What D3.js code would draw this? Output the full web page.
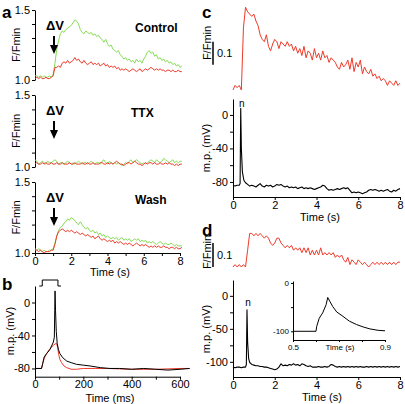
<!DOCTYPE html>
<html><head><meta charset="utf-8">
<script src="https://cdn.jsdelivr.net/npm/d3@7"></script>
<style>
body{margin:0;background:#fff}
svg{display:block;font-family:"Liberation Sans",Arial,sans-serif}
</style></head><body>
<svg id="chart" width="405" height="404"></svg>
<script>
// ---------- DATA ----------
// panel a: F/Fmin sampled every 0.1 s from 0 to 8.1 s
const ctrlGreen = [1.03,1.03,1.02,1.03,1.02,1.03,1.02,1.02,1.03,1.02,
  1.04,1.12,1.22,1.28,1.33,1.35,1.34,1.36,1.37,1.38,
  1.39,1.41,1.43,1.42,1.40,1.36,1.34,1.33,1.35,1.34,
  1.33,1.34,1.32,1.33,1.31,1.32,1.30,1.29,1.27,1.29,
  1.26,1.24,1.25,1.22,1.21,1.20,1.21,1.18,1.17,1.15,
  1.16,1.14,1.15,1.13,1.14,1.12,1.15,1.13,1.14,1.12,
  1.15,1.17,1.20,1.21,1.19,1.20,1.17,1.18,1.15,1.16,
  1.14,1.15,1.13,1.14,1.12,1.13,1.11,1.12,1.10,1.11,
  1.09,1.10];
const ctrlRed = [1.01,1.02,1.01,1.02,1.01,1.01,1.02,1.01,1.01,1.02,
  1.03,1.09,1.09,1.10,1.09,1.12,1.13,1.12,1.14,1.12,
  1.13,1.14,1.16,1.14,1.15,1.13,1.12,1.14,1.12,1.11,
  1.12,1.13,1.11,1.12,1.11,1.12,1.10,1.11,1.12,1.10,
  1.11,1.09,1.10,1.09,1.10,1.08,1.09,1.07,1.08,1.07,
  1.08,1.07,1.06,1.07,1.08,1.07,1.06,1.07,1.08,1.06,
  1.07,1.08,1.07,1.08,1.09,1.08,1.07,1.08,1.07,1.08,
  1.07,1.07,1.06,1.07,1.07,1.06,1.07,1.06,1.06,1.07,
  1.06,1.06];
const ttxGreen = [1.05,1.04,1.02,1.03,1.04,1.03,1.02,1.04,1.03,1.03,
  1.04,1.05,1.04,1.02,1.03,1.03,1.02,1.03,1.04,1.03,
  1.02,1.03,1.02,1.03,1.04,1.03,1.02,1.03,1.03,1.02,
  1.03,1.04,1.03,1.02,1.03,1.03,1.02,1.04,1.05,1.03,
  1.02,1.04,1.03,1.02,1.03,1.02,1.03,1.02,1.01,1.02,
  1.03,1.02,1.04,1.05,1.03,1.04,1.05,1.04,1.03,1.02,
  1.03,1.02,1.03,1.04,1.05,1.04,1.03,1.05,1.04,1.03,
  1.04,1.06,1.05,1.04,1.03,1.04,1.05,1.03,1.04,1.03,
  1.04,1.04];
const ttxRed = [1.02,1.03,1.02,1.02,1.03,1.02,1.03,1.02,1.02,1.03,
  1.02,1.02,1.03,1.02,1.02,1.03,1.02,1.02,1.02,1.03,
  1.02,1.02,1.03,1.02,1.02,1.02,1.03,1.02,1.02,1.03,
  1.02,1.02,1.03,1.02,1.02,1.02,1.03,1.03,1.02,1.02,
  1.03,1.02,1.03,1.02,1.03,1.04,1.03,1.02,1.02,1.01,
  1.02,1.03,1.03,1.02,1.03,1.04,1.03,1.02,1.02,1.01,
  1.02,1.03,1.02,1.03,1.03,1.02,1.03,1.02,1.02,1.03,
  1.02,1.02,1.03,1.02,1.03,1.02,1.02,1.01,1.02,1.01,
  1.02,1.02];
const washGreen = [1.03,1.02,1.03,1.02,1.01,1.02,1.01,1.01,1.02,1.02,
  1.03,1.07,1.12,1.16,1.18,1.19,1.21,1.22,1.24,1.23,
  1.25,1.24,1.23,1.21,1.20,1.22,1.20,1.18,1.17,1.18,
  1.16,1.15,1.16,1.14,1.15,1.13,1.14,1.12,1.13,1.11,
  1.12,1.11,1.10,1.11,1.10,1.11,1.09,1.10,1.11,1.09,
  1.10,1.09,1.10,1.08,1.09,1.10,1.09,1.10,1.08,1.09,
  1.08,1.09,1.07,1.08,1.07,1.08,1.07,1.06,1.07,1.08,
  1.07,1.06,1.07,1.06,1.06,1.07,1.06,1.05,1.06,1.05,
  1.05,1.05];
const washRed = [1.02,1.02,1.01,1.02,1.01,1.00,1.01,1.01,1.01,1.02,
  1.02,1.06,1.12,1.15,1.16,1.17,1.16,1.15,1.16,1.15,
  1.16,1.15,1.14,1.15,1.14,1.13,1.14,1.13,1.12,1.13,
  1.12,1.11,1.12,1.10,1.11,1.12,1.10,1.09,1.10,1.09,
  1.08,1.09,1.08,1.09,1.07,1.08,1.07,1.08,1.07,1.06,
  1.07,1.06,1.07,1.06,1.05,1.06,1.07,1.06,1.05,1.06,
  1.05,1.06,1.05,1.04,1.05,1.04,1.05,1.04,1.05,1.04,
  1.04,1.05,1.04,1.04,1.03,1.04,1.04,1.03,1.04,1.03,
  1.03,1.04];
const aNames = ["Control", "TTX", "Wash"];
const aYTicks = [1.0, 1.1, 1.2, 1.3, 1.4, 1.5];
const aYLabels = [1.0, 1.5];
const sTicks = [0, 1, 2, 3, 4, 5, 6, 7, 8];
const sLabels = [0, 2, 4, 6, 8];

// panel b: membrane potential (mV) vs time (ms)
const bBlackT = [0,27,32,38,48,62,76,80,83,85,88,92,97,103,115,131,150,172,200,228,270,310,350,400,450,500,550,600,640];
const bBlackV = [-80,-80,-74,-66,-62,-57,-48,-42,14,-10,-35,-50,-57,-62,-67,-71,-73,-75,-76,-77,-79,-80,-80,-81,-80,-81,-82,-81,-80];
const bRedT = [0,27,32,38,48,62,76,84,90,94,98,103,110,120,131,150,172,200,250,300,400,500,600,640];
const bRedV = [-80,-80,-74,-68,-62,-56,-52,-50,-50,-55,-63,-69,-73,-77,-79,-81,-81,-80,-80,-80,-81,-81,-80,-80];
const bPulse = [30, 95];
const bXTicks = [0,100,200,300,400,500,600];
const bXLabels = [0,200,400,600];
const bYTicks = [-80,-60,-40,-20,0];
const bYLabels = [-80,-40,0];

// panel c: F/Fmin every 0.1 s (0..8 s) and membrane potential
const cRed = [1.00,1.02,1.01,1.02,1.00,1.27,1.36,1.34,1.33,1.32,
  1.33,1.30,1.28,1.24,1.22,1.21,1.24,1.19,1.17,1.20,
  1.22,1.21,1.18,1.21,1.20,1.19,1.21,1.19,1.20,1.17,
  1.19,1.16,1.18,1.15,1.19,1.14,1.17,1.16,1.13,1.18,
  1.14,1.16,1.13,1.17,1.14,1.15,1.12,1.14,1.13,1.12,
  1.10,1.09,1.12,1.10,1.11,1.13,1.09,1.14,1.08,1.12,
  1.10,1.13,1.07,1.10,1.08,1.07,1.09,1.06,1.07,1.05,
  1.06,1.04,1.05,1.04,1.02,1.04,1.03,1.02,1.04,1.02,
  1.03];
const cMpT = [0,0.1,0.2,0.3,0.34,0.37,0.40,0.45,0.52,0.6,0.7].concat(d3.range(8, 81).map(i => i / 10));
const cMpV = [-84,-85,-84,-84,-82,8,-40,-68,-78,-81,-83,
  -85,-84,
  -85,-86,-84,-82,-85,-86,-84,-85,-84,-86,
  -85,-83,-84,-83,-85,-86,-85,-87,-86,-87,
  -86,-88,-87,-86,-88,-87,-88,-87,-88,-89,
  -88,-87,-86,-84,-85,-88,-90,-89,-90,-89,
  -88,-89,-88,-87,-88,-87,-90,-93,-92,-93,
  -92,-93,-94,-93,-92,-90,-89,-90,-89,-90,
  -91,-90,-91,-90,-89,-91,-92,-90,-91,-89,
  -88];
const cYTicks = [-80,-60,-40,-20,0];
const cYLabels = [-80,-40,0];
const cSpikeT = 0.37;

// panel d
const dRed = [1.00,1.01,1.00,1.01,1.00,1.01,1.00,1.07,1.14,1.14,
  1.13,1.14,1.13,1.14,1.13,1.12,1.13,1.12,1.10,1.09,
  1.10,1.12,1.12,1.10,1.09,1.08,1.09,1.08,1.09,1.07,
  1.08,1.07,1.08,1.06,1.08,1.06,1.08,1.05,1.07,1.05,
  1.07,1.05,1.08,1.05,1.06,1.05,1.06,1.05,1.06,1.04,
  1.05,1.04,1.05,1.03,1.02,1.04,1.01,1.03,1.02,1.01,
  1.03,1.02,1.01,1.02,1.01,1.00,1.01,1.02,1.01,1.02,
  1.01,1.02,1.01,1.02,1.01,1.02,1.01,1.02,1.01,1.02,
  1.02];
const dMpT = [0,0.1,0.2,0.3,0.4,0.5,0.6,0.64,0.67,0.7,0.75,0.8,0.9].concat(d3.range(10, 81).map(i => i / 10));
const dMpV = [-108,-109,-108,-108,-109,-108,-108,-104,-21,-70,-95,-101,-104,
  -105,-106,-106,-107,-107,-108,-108,-109,-110,-111,
  -112,-111,-108,-103,-106,-105,-106,-104,-105,-103,
  -105,-104,-106,-103,-104,-106,-107,-106,-108,-108,
  -108,-107,-108,-108,-107,-108,-107,-104,-105,-107,
  -108,-107,-108,-107,-108,-107,-108,-107,-108,-107,
  -108,-107,-108,-108,-107,-108,-107,-108,-107,-108,
  -107,-108,-107,-108,-107,-108,-107,-108,-107,-108,
  -107];
const dYTicks = [-100,-75,-50,-25,0];
const dYLabels = [-100,-50,0];
const dSpikeT = 0.67;
// inset of panel d
const iT = [0.5,0.6,0.603,0.614,0.629,0.644,0.651,0.66,0.673,0.69,0.717,0.745,0.776,0.805,0.834,0.87,0.9];
const iV = [-100,-100,-90,-73,-62,-45,-30,-38,-49,-60,-69,-79,-86,-91,-95,-98,-99];
const iXTicks = [0.5,0.6,0.7,0.8,0.9];
const iXLabels = [0.5,0.9];
const iYTicks = [-100,-50,0];
const iYLabels = [-100,0];

// ---------- DRAW ----------
const RED = "#ef3a2a", GREEN = "#86dd55", FS = 11;
const svg = d3.select("#chart");
const fmtSel = (labels, f) => d => labels.some(l => Math.abs(l - d) < 1e-9) ? f(d) : "";
function styleAxis(g, fs) {
  g.attr("font-size", fs).attr("font-family", null);
  g.selectAll("path,line").attr("stroke", "#000").attr("stroke-width", 1);
  g.selectAll("text").attr("fill", "#000");
}
function letter(t, x, y) {
  svg.append("text").attr("x", x).attr("y", y).attr("font-size", 17).attr("font-weight", "bold").text(t);
}
function vlabel(t, x, y, fs) {
  svg.append("text").attr("transform", `translate(${x},${y}) rotate(-90)`).attr("text-anchor", "middle")
    .attr("font-size", fs || FS).text(t);
}
function trace(data, xs, ys, color, w) {
  svg.append("path").datum(data).attr("fill", "none").attr("stroke", color).attr("stroke-width", w || 1)
    .attr("stroke-linejoin", "round")
    .attr("d", d3.line().x(d => xs(d[0])).y(d => ys(d[1])));
}
const fmt1 = d3.format(".1f");
const fmtMinus = d => (d < 0 ? "-" + Math.abs(d) : String(d));

// ----- panel a -----
const xA = d3.scaleLinear().domain([0, 8]).range([35, 180]);
const aRows = [
  {top: 10, bottom: 80, g: ctrlGreen, r: ctrlRed, nx: 135},
  {top: 95, bottom: 167, g: ttxGreen, r: ttxRed, nx: 131},
  {top: 182, bottom: 253, g: washGreen, r: washRed, nx: 135}
];
letter("a", 2, 18);
aRows.forEach((row, i) => {
  const y = d3.scaleLinear().domain([1.0, 1.5]).range([row.bottom, row.top]);
  const ay = svg.append("g").attr("transform", "translate(35,0)")
    .call(d3.axisLeft(y).tickValues(aYTicks).tickSize(3).tickSizeOuter(0).tickPadding(2)
      .tickFormat(fmtSel(aYLabels, fmt1)));
  styleAxis(ay, FS);
  vlabel("F/Fmin", 20, (row.top + row.bottom) / 2);
  trace(row.g.map((v, k) => [k / 10, v]), xA, y, GREEN);
  trace(row.r.map((v, k) => [k / 10, v]), xA, y, RED);
  // delta V marker
  svg.append("text").attr("x", 55).attr("y", row.top + 20).attr("text-anchor", "middle")
    .attr("font-size", 13).attr("font-weight", "bold").text("ΔV");
  svg.append("line").attr("x1", 54).attr("x2", 54).attr("y1", row.top + 26).attr("y2", row.top + 37)
    .attr("stroke", "#000").attr("stroke-width", 2);
  svg.append("path").attr("d", `M50,${row.top + 35}L58,${row.top + 35}L54,${row.top + 44}Z`).attr("fill", "#000");
  svg.append("text").attr("x", row.nx).attr("y", row.top + 22).attr("font-size", 12)
    .attr("font-weight", "bold").text(aNames[i]);
  if (i === 2) {
    const ax = svg.append("g").attr("transform", `translate(0,${row.bottom})`)
      .call(d3.axisBottom(xA).tickValues(sTicks).tickSize(3).tickSizeOuter(0).tickPadding(1)
        .tickFormat(fmtSel(sLabels, d => String(d))));
    styleAxis(ax, FS);
    svg.append("text").attr("x", 110).attr("y", row.bottom + 23).attr("text-anchor", "middle")
      .attr("font-size", FS).text("Time (s)");
  }
});

// ----- panel b -----
const xB = d3.scaleLinear().domain([0, 600]).range([35, 180]);
const yB = d3.scaleLinear().domain([-90, 20]).range([376.7, 286]);
letter("b", 2, 290);
const bya = svg.append("g").attr("transform", "translate(35,0)")
  .call(d3.axisLeft(yB).tickValues(bYTicks).tickSize(3).tickSizeOuter(0).tickPadding(2)
    .tickFormat(fmtSel(bYLabels, fmtMinus)));
styleAxis(bya, FS);
const bxa = svg.append("g").attr("transform", "translate(0,376.7)")
  .call(d3.axisBottom(xB).tickValues(bXTicks).tickSize(3).tickSizeOuter(0).tickPadding(1)
    .tickFormat(fmtSel(bXLabels, d => String(d))));
styleAxis(bxa, FS);
vlabel("m.p. (mV)", 14, 331);
svg.append("text").attr("x", 110).attr("y", 402).attr("text-anchor", "middle").attr("font-size", FS).text("Time (ms)");
trace(bRedT.map((t, k) => [t, bRedV[k]]), xB, yB, RED);
trace(bBlackT.map((t, k) => [t, bBlackV[k]]), xB, yB, "#000");
svg.append("path").attr("fill", "none").attr("stroke", "#000").attr("stroke-width", 1)
  .attr("d", `M${xB(bPulse[0]) - 3},286H${xB(bPulse[0])}V280H${xB(bPulse[1])}V286H${xB(bPulse[1]) + 3}`);

// ----- panel c -----
const xC = d3.scaleLinear().domain([0, 8]).range([233, 400]);
const yCf = d3.scaleLinear().domain([1.0, 1.4]).range([90, -2]);
const yCm = d3.scaleLinear().domain([-98, 19]).range([197, 99]);
letter("c", 202, 18);
trace(cRed.map((v, k) => [k / 10, v]), xC, yCf, RED);
svg.append("line").attr("x1", 213).attr("x2", 213).attr("y1", yCf(1.11)).attr("y2", yCf(1.21))
  .attr("stroke", "#000").attr("stroke-width", 1.5);
svg.append("text").attr("x", 217).attr("y", (yCf(1.11) + yCf(1.21)) / 2 + 4).attr("font-size", FS).text("0.1");
vlabel("F/Fmin", 211, 43);
const cya = svg.append("g").attr("transform", "translate(233,0)")
  .call(d3.axisLeft(yCm).tickValues(cYTicks).tickSize(3).tickSizeOuter(0).tickPadding(2)
    .tickFormat(fmtSel(cYLabels, fmtMinus)));
styleAxis(cya, FS);
const cxa = svg.append("g").attr("transform", "translate(0,197)")
  .call(d3.axisBottom(xC).tickValues(sLabels).tickSize(3).tickSizeOuter(0).tickPadding(1));
styleAxis(cxa, FS);
vlabel("m.p. (mV)", 210, 148);
svg.append("text").attr("x", 320).attr("y", 221).attr("text-anchor", "middle").attr("font-size", FS).text("Time (s)");
trace(cMpT.map((t, k) => [t, cMpV[k]]), xC, yCm, "#000", 1.1);
svg.append("text").attr("x", xC(cSpikeT) + 1).attr("y", 107).attr("text-anchor", "middle").attr("font-size", 10).text("n");

// ----- panel d -----
const yDf = d3.scaleLinear().domain([1.0, 1.15]).range([267, 231]);
const yDm = d3.scaleLinear().domain([-123, 24]).range([377, 280]);
letter("d", 202, 236);
trace(dRed.map((v, k) => [k / 10, v]), xC, yDf, RED);
svg.append("line").attr("x1", 213).attr("x2", 213).attr("y1", yDf(1.0)).attr("y2", yDf(1.1))
  .attr("stroke", "#000").attr("stroke-width", 1.5);
svg.append("text").attr("x", 217).attr("y", (yDf(1.0) + yDf(1.1)) / 2 + 4).attr("font-size", FS).text("0.1");
vlabel("F/Fmin", 211, 252);
const dya = svg.append("g").attr("transform", "translate(233,0)")
  .call(d3.axisLeft(yDm).tickValues(dYTicks).tickSize(3).tickSizeOuter(0).tickPadding(2)
    .tickFormat(fmtSel(dYLabels, fmtMinus)));
styleAxis(dya, FS);
const dxa = svg.append("g").attr("transform", "translate(0,377)")
  .call(d3.axisBottom(xC).tickValues(sLabels).tickSize(3).tickSizeOuter(0).tickPadding(1));
styleAxis(dxa, FS);
vlabel("m.p. (mV)", 210, 329);
svg.append("text").attr("x", 322).attr("y", 401).attr("text-anchor", "middle").attr("font-size", FS).text("Time (s)");
trace(dMpT.map((t, k) => [t, dMpV[k]]), xC, yDm, "#000", 1.1);
svg.append("text").attr("x", xC(dSpikeT) + 1).attr("y", 306).attr("text-anchor", "middle").attr("font-size", 10).text("n");

// inset
const xI = d3.scaleLinear().domain([0.5, 0.9]).range([293, 385]);
const yI = d3.scaleLinear().domain([-118, 4]).range([340, 281]);
const iya = svg.append("g").attr("transform", "translate(293,0)")
  .call(d3.axisLeft(yI).tickValues(iYTicks).tickSize(2).tickSizeOuter(0).tickPadding(2)
    .tickFormat(fmtSel(iYLabels, fmtMinus)));
styleAxis(iya, 8);
const ixa = svg.append("g").attr("transform", "translate(0,340)")
  .call(d3.axisBottom(xI).tickValues(iXTicks).tickSize(2).tickSizeOuter(0).tickPadding(2)
    .tickFormat(fmtSel(iXLabels, d => String(d))));
styleAxis(ixa, 8);
svg.append("text").attr("x", 340).attr("y", 350).attr("text-anchor", "middle").attr("font-size", 8).text("Time (s)");
trace(iT.map((t, k) => [t, iV[k]]), xI, yI, "#000", 1);
</script>
</body></html>
